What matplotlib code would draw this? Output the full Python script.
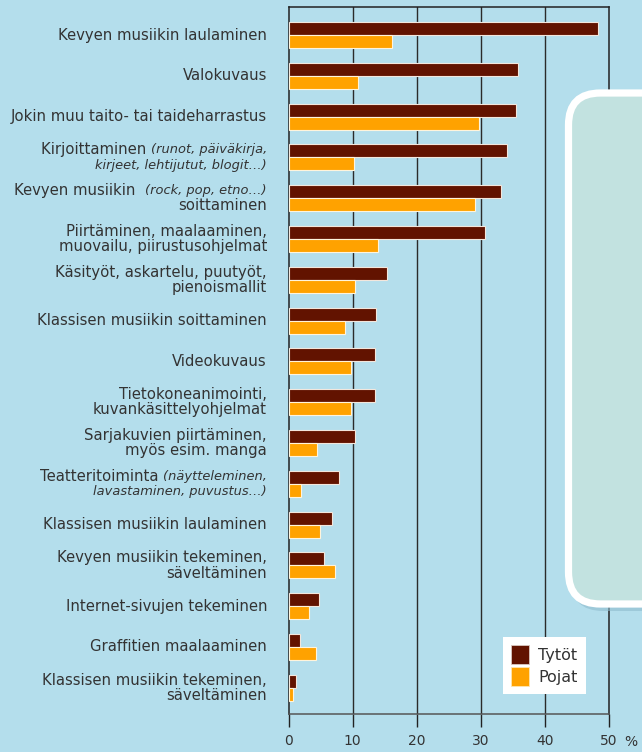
import matplotlib.pyplot as plt
import matplotlib.transforms as mtransforms
from matplotlib.patches import FancyBboxPatch, Patch
import numpy as np

# labels: parts between "_" are italic, "\n" splits lines
categories = [
    "Kevyen musiikin laulaminen",
    "Valokuvaus",
    "Jokin muu taito- tai taideharrastus",
    "Kirjoittaminen _(runot, päiväkirja,_\n_kirjeet, lehtijutut, blogit…)_",
    "Kevyen musiikin  _(rock, pop, etno…)_\nsoittaminen",
    "Piirtäminen, maalaaminen,\nmuovailu, piirustusohjelmat",
    "Käsityöt, askartelu, puutyöt,\npienoismallit",
    "Klassisen musiikin soittaminen",
    "Videokuvaus",
    "Tietokoneanimointi,\nkuvankäsittelyohjelmat",
    "Sarjakuvien piirtäminen,\nmyös esim. manga",
    "Teatteritoiminta _(näytteleminen,_\n_lavastaminen, puvustus…)_",
    "Klassisen musiikin laulaminen",
    "Kevyen musiikin tekeminen,\nsäveltäminen",
    "Internet-sivujen tekeminen",
    "Graffitien maalaaminen",
    "Klassisen musiikin tekeminen,\nsäveltäminen",
]
tytot = [48.3, 35.8, 35.5, 34.1, 33.1, 30.6, 15.3, 13.7, 13.5, 13.5, 10.3, 7.9, 6.8, 5.6, 4.7, 1.8, 1.1]
pojat = [16.1, 10.8, 29.7, 10.2, 29.1, 13.9, 10.3, 8.8, 9.8, 9.8, 4.4, 2.0, 4.9, 7.3, 3.2, 4.2, 0.7]
series_names = ["Tytöt", "Pojat"]
x_ticks = [0, 10, 20, 30, 40, 50]

bg = "#b4deec"
c_tytot = "#621300"
c_pojat = "#ffa200"
txt = "#333333"

plt.rcParams['font.family'] = ['DejaVu Sans']

fig = plt.figure(figsize=(6.42, 7.52), dpi=100, facecolor=bg)
ax = fig.add_axes([288.6 / 642, 1 - 714.3 / 752, 320.4 / 642, 707 / 752])
ax.set_facecolor(bg)

y = np.arange(len(categories))
h = 0.32
ax.barh(y - h / 2, tytot, height=h, color=c_tytot, edgecolor="#f3e6dc", linewidth=0.8, zorder=3)
ax.barh(y + h / 2, pojat, height=h, color=c_pojat, edgecolor="#fff4dc", linewidth=0.8, zorder=3)

ax.set_xlim(0, 50)
ax.set_ylim(len(categories) - 1 + 0.65, -0.68)
ax.set_xticks(x_ticks)
ax.set_xticklabels([str(t) for t in x_ticks], fontsize=10, color=txt)
ax.tick_params(axis='x', length=9.5, width=1, color="#222222", pad=4.5)
ax.set_yticks([])
for t in x_ticks[1:-1]:
  ax.axvline(t, color="#2a2a2a", linewidth=1, zorder=1)
for side in ['left', 'top', 'right']:
  ax.spines[side].set_color("#222222")
  ax.spines[side].set_linewidth(1.1)
ax.spines['bottom'].set_color("#555555")
ax.spines['bottom'].set_linewidth(1.1)

fig.text(631 / 642, 1 - 742 / 752, "%", fontsize=10, color=txt, ha='center', va='center')

# category labels with mixed italic parts
fig.canvas.draw()
renderer = fig.canvas.get_renderer()
base = ax.get_yaxis_transform()
label_x = (267 - 288.6) / 320.4
line_gap = 15.5
for i, lab in enumerate(categories):
  lines = lab.split("\n")
  n = len(lines)
  for j, line in enumerate(lines):
    dy = ((n - 1) / 2 - j) * line_gap
    parts = line.split("_")
    offset = 0
    for k in range(len(parts) - 1, -1, -1):
      seg = parts[k]
      if seg == "":
        continue
      italic = k % 2 == 1
      tr = mtransforms.offset_copy(base, fig=fig, x=-offset, y=dy, units='dots')
      t = ax.text(label_x, i, seg, transform=tr, ha='right', va='center',
                  fontsize=9.4 if italic else 10.7, color=txt,
                  style='italic' if italic else 'normal', clip_on=False)
      offset += t.get_window_extent(renderer).width

# rounded panel on the right
ident = mtransforms.IdentityTransform()
H = 752
shadow = FancyBboxPatch((571, H - 611), 200, 514, boxstyle="round,pad=0,rounding_size=32",
                        transform=ident, facecolor="#8fbccd", edgecolor='none', alpha=0.6, zorder=4)
panel = FancyBboxPatch((568.5, H - 604), 200, 511, boxstyle="round,pad=0,rounding_size=32",
                       transform=ident, facecolor="#c2e2e0", edgecolor="white", linewidth=5.2, zorder=5)
fig.add_artist(shadow)
fig.add_artist(panel)

handles = [Patch(facecolor=c_tytot, edgecolor="#d9c8c0", linewidth=0.6),
           Patch(facecolor=c_pojat, edgecolor="#ffe6b0", linewidth=0.6)]
leg = ax.legend(handles, series_names, loc='upper left', bbox_to_anchor=(503 / 642, 1 - 637 / 752),
                bbox_transform=fig.transFigure, borderaxespad=0, fancybox=False, framealpha=1,
                edgecolor='none', fontsize=11.5, handlelength=1.1, handleheight=1.45,
                handletextpad=0.6, labelspacing=0.2, borderpad=0.5)
for t in leg.get_texts():
  t.set_color(txt)
leg.set_zorder(6)

fig.savefig("out.png", dpi=100, facecolor=bg)
